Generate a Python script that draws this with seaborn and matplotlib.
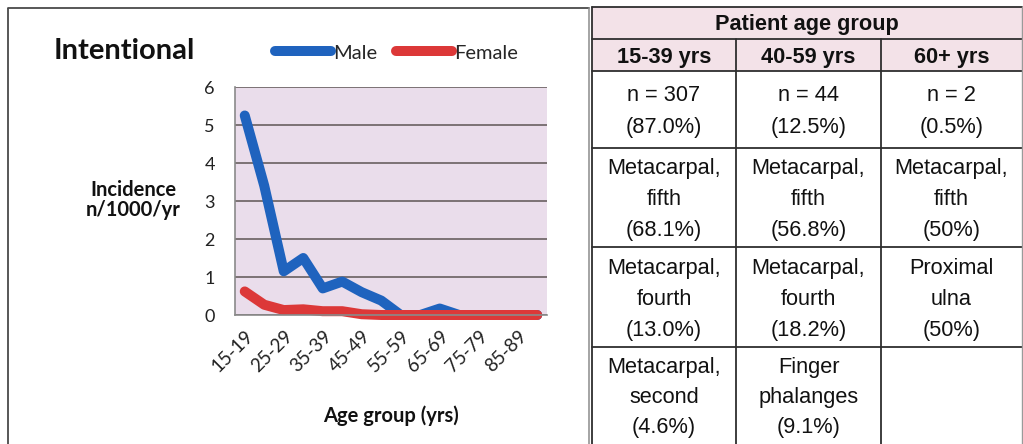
import numpy as np
import pandas as pd
import matplotlib
matplotlib.use("Agg")
import matplotlib.pyplot as plt
import seaborn as sns
from matplotlib.patches import Rectangle

# ---------------- data ----------------
age_groups = ["15-19", "20-24", "25-29", "30-34", "35-39", "40-44", "45-49", "50-54",
              "55-59", "60-64", "65-69", "70-74", "75-79", "80-84", "85-89", "90+"]
male = [5.25, 3.4, 1.15, 1.5, 0.7, 0.88, 0.6, 0.38, 0.0, 0.0, 0.17, 0.0, 0.0, 0.0, 0.0, 0.0]
female = [0.62, 0.27, 0.13, 0.15, 0.1, 0.1, 0.02, 0.0, 0.0, 0.0, 0.0, 0.0, 0.0, 0.0, 0.0, 0.0]
series_names = ["Male", "Female"]
y_ticks = [0, 1, 2, 3, 4, 5, 6]

chart_title = "Intentional"
y_label = "Incidence\nn/1000/yr"
x_label = "Age group (yrs)"

table_title = "Patient age group"
table_columns = ["15-39 yrs", "40-59 yrs", "60+ yrs"]
table_counts = ["n = 307", "n = 44", "n = 2"]
table_shares = ["(87.0%)", "(12.5%)", "(0.5%)"]
rank1 = [["Metacarpal,", "fifth", "(68.1%)"],
         ["Metacarpal,", "fifth", "(56.8%)"],
         ["Metacarpal,", "fifth", "(50%)"]]
rank2 = [["Metacarpal,", "fourth", "(13.0%)"],
         ["Metacarpal,", "fourth", "(18.2%)"],
         ["Proximal", "ulna", "(50%)"]]
rank3 = [["Metacarpal,", "second", "(4.6%)"],
         ["Finger", "phalanges", "(9.1%)"],
         []]

# ---------------- style ----------------
sns.set_theme(style="white")
chart_font = ["Lato", "DejaVu Sans"]
table_font = ["Liberation Sans", "DejaVu Sans"]
plt.rcParams["font.family"] = chart_font

W, H = 1023, 444
fig = plt.figure(figsize=(W / 100, H / 100), dpi=100)
fig.patch.set_facecolor("white")


def fx(px):
    return px / W


def fy(py):
    return 1 - py / H


# overlay (frame + table) in pixel coordinates
ov = fig.add_axes([0, 0, 1, 1])
ov.set_xlim(0, W)
ov.set_ylim(H, 0)
ov.axis("off")
ov.patch.set_alpha(0)

frame_col = "#4a4a4a"
ov.plot([8, 8], [8, H + 2], color=frame_col, lw=1.3, solid_capstyle="butt")
ov.plot([8, 589], [8, 8], color=frame_col, lw=1.3)
ov.plot([589, 589], [8, H + 2], color="#8c8c8c", lw=1.1)

# table geometry
col_x = [592, 736, 881, 1022]
row_y = [7, 39, 71, 148, 247, 347, 447]
line_col = "#2e2e2e"
ov.add_patch(Rectangle((col_x[0], row_y[0]), col_x[-1] - col_x[0], row_y[2] - row_y[0],
                       facecolor="#F3E2E8", edgecolor="none", zorder=0))
for i, y in enumerate(row_y[:-1]):
    ov.plot([col_x[0], col_x[-1]], [y, y], color=line_col, lw=1.3, zorder=2)
ov.plot([col_x[0], col_x[0]], [row_y[0], H + 2], color=line_col, lw=1.3, zorder=2)
ov.plot([col_x[-1], col_x[-1]], [row_y[0], H + 2], color="#9a9a9a", lw=1.0, zorder=2)
for x in col_x[1:-1]:
    ov.plot([x, x], [row_y[1], H + 2], color=line_col, lw=1.3, zorder=2)

col_c = [(col_x[i] + col_x[i + 1]) / 2 for i in range(3)]
tsize = 15.7
cap_half = 7.7


def cell_lines(cx, top, bottom, lines, step, bold=False):
    n = len(lines)
    if n == 0:
        return
    center = (top + bottom) / 2
    for k, s in enumerate(lines):
        yc = center + (k - (n - 1) / 2) * step
        ov.text(cx, yc + cap_half, s, ha="center", va="baseline", fontsize=tsize,
                family=table_font, fontweight="bold" if bold else "normal", color="#111111")


cell_lines((col_x[0] + col_x[-1]) / 2, row_y[0], row_y[1] - 1, [table_title], 0, bold=True)
for i in range(3):
    cell_lines(col_c[i], row_y[1], row_y[2], [table_columns[i]], 0, bold=True)
    cell_lines(col_c[i], row_y[2], row_y[3], [table_counts[i], table_shares[i]], 32)
    cell_lines(col_c[i], row_y[3], row_y[4], rank1[i], 31)
    cell_lines(col_c[i], row_y[4], row_y[5], rank2[i], 31)
    cell_lines(col_c[i], row_y[5], row_y[6] - 3, rank3[i], 30)

# ---------------- chart ----------------
left, right, top, bottom = 235, 547, 87, 315
ax = fig.add_axes([fx(left), fy(bottom), (right - left) / W, (bottom - top) / H])
ax.set_facecolor("#EADDEB")

pos = np.arange(len(age_groups))
df = pd.DataFrame({
    "pos": np.concatenate([pos, pos]),
    "age": age_groups + age_groups,
    "value": male + female,
    "sex": [series_names[0]] * len(male) + [series_names[1]] * len(female),
})
palette = {"Male": "#1F63BE", "Female": "#DC3838"}
sns.lineplot(data=df, x="pos", y="value", hue="sex", hue_order=series_names,
             palette=palette, linewidth=7.2, sort=False, ax=ax, legend=True)
for ln in ax.lines:
    ln.set_solid_capstyle("round")
    ln.set_solid_joinstyle("round")
    ln.set_clip_on(False)

ax.set_xlim(-0.5, len(age_groups) - 0.5)
ax.set_ylim(0, 6)
ax.set_yticks(y_ticks)
ax.set_yticklabels([str(t) for t in y_ticks])
ax.set_xticks(pos[::2])
ax.set_xticklabels(age_groups[::2], rotation=45, ha="right", rotation_mode="anchor")
ax.set_xticks(np.arange(-0.5, len(age_groups)), minor=True)
ax.tick_params(axis="x", which="major", length=0, pad=9, labelsize=13.5, colors="#222222")
ax.tick_params(axis="x", which="minor", length=4, width=1.1, color="#7a7a7a", direction="out")
ax.tick_params(axis="y", which="major", length=4.5, width=1.1, color="#7a7a7a",
               direction="out", pad=10, labelsize=13, labelcolor="#222222")
ax.yaxis.grid(True, color="#5E5454", lw=1.1)
ax.xaxis.grid(False)
ax.set_axisbelow(True)
for s in ["top", "right"]:
    ax.spines[s].set_visible(False)
for s in ["left", "bottom"]:
    ax.spines[s].set_color("#8a8a8a")
    ax.spines[s].set_linewidth(1.2)
ax.set_xlabel("")
ax.set_ylabel("")

handles, labels = ax.get_legend_handles_labels()
ax.legend(handles, labels, loc="center left", bbox_to_anchor=(fx(275), fy(53)),
          bbox_transform=fig.transFigure, ncol=2, frameon=False, fontsize=14.5,
          handlelength=2.8, handletextpad=0.1, columnspacing=0.9,
          borderpad=0, borderaxespad=0)

fig.text(fx(54), fy(51), chart_title, fontsize=21, fontweight="bold", ha="left", va="center",
         color="#111111")
fig.text(fx(133), fy(200), y_label, fontsize=14.5, fontweight="bold", ha="center", va="center",
         linespacing=1.0, color="#111111")
fig.text(fx(391), fy(416), x_label, fontsize=14.5, fontweight="bold", ha="center", va="center",
         color="#111111")

fig.savefig("out.png", dpi=100, facecolor="white")
